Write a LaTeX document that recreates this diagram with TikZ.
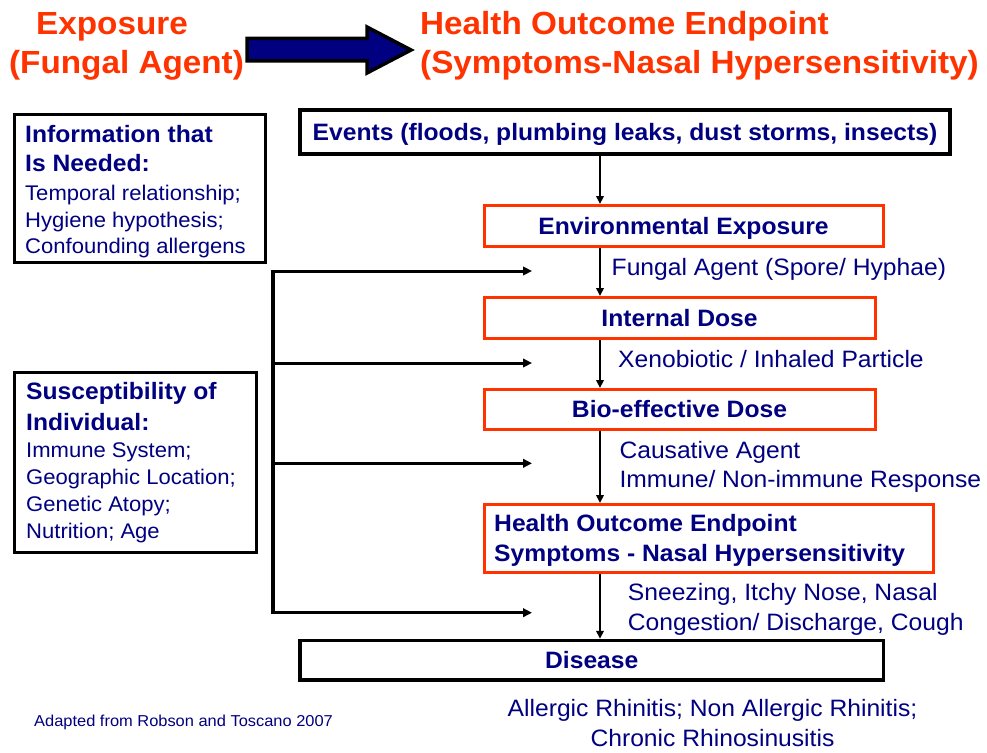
\documentclass[tikz,border=0pt]{standalone}
\usepackage{fontspec}
\setmainfont{Liberation Sans}[FakeStretch=1.04]
\usetikzlibrary{arrows.meta}

\definecolor{navy}{HTML}{000080}
\definecolor{flame}{HTML}{FF3300}

\newcommand\dgTitle{\fontsize{32}{39}\selectfont\bfseries}
\newcommand\dgStage{\fontsize{23.7}{30}\selectfont\bfseries}
\newcommand\dgNote{\fontsize{23.7}{29.5}\selectfont}
\newcommand\dgSide{\fontsize{21.2}{27}\selectfont}
\newcommand\dgSideHead{\fontsize{23.7}{27}\selectfont\bfseries}
\newcommand\dgCredit{\fontsize{15.8}{19}\selectfont}

\tikzset{
  heading/.style={text=flame, font=\dgTitle, inner sep=0pt},
  stagebox/.style={draw=flame, line width=3pt, rectangle, inner sep=0pt,
    text=navy, font=\dgStage, text height=17pt, text depth=0pt},
  eventbox/.style={draw=black, line width=4pt, rectangle, inner sep=0pt,
    text=navy, font=\dgStage, text height=17pt, text depth=0pt},
  framebox/.style={draw=black, line width=3pt, rectangle, inner sep=0pt},
  note/.style={text=navy, font=\dgNote, inner sep=0pt, align=left},
  sidetext/.style={text=navy, font=\dgSide, inner sep=0pt, align=left},
  flow/.style={-{Triangle[length=8pt,width=7.5pt]}, line width=2pt},
  feed/.style={-{Triangle[length=9pt,width=8.5pt]}, line width=3pt},
}

\begin{document}
\begin{tikzpicture}[x=1pt,y=-1pt]
\useasboundingbox (0,0) rectangle (987,752);

% headings
\node[heading, anchor=base] (expo) at (112,35) {Exposure};
\node[heading, anchor=base] (agent) at (126.5,74) {(Fungal Agent)};
\node[heading, anchor=base west] (outc) at (420,35) {Health Outcome Endpoint};
\node[heading, anchor=base west] (outcsub) at (420,74) {(Symptoms-Nasal Hypersensitivity)};

% block arrow between the headings
\draw[fill=navy, draw=black, line width=3.5pt, line join=miter]
  (247,38.5) -- (367,38.5) -- (367,27) -- (411,50) -- (367,73) -- (367,61)
  -- (247,61) -- cycle;

% side panels
\node[framebox, minimum width=251pt, minimum height=148pt] (info) at (140,188.5) {};
\node[sidetext, anchor=north west] (infotext) at (25,124.7)
  {{\dgSideHead Information that}\\[2.5pt]{\dgSideHead Is Needed:}\\[1.5pt]
   Temporal relationship;\\Hygiene hypothesis;\\[-0.5pt]Confounding allergens};

\node[framebox, minimum width=242pt, minimum height=180.5pt] (susc) at (135.5,462.25) {};
\node[sidetext, anchor=north west] (susctext) at (26,382)
  {{\dgSideHead Susceptibility of}\\[3.7pt]{\dgSideHead Individual:}\\[0.7pt]
   Immune System;\\Geographic Location;\\Genetic Atopy;\\Nutrition; Age};

% main chain
\node[eventbox, minimum width=650pt, minimum height=43.5pt] (events) at (625,131.75)
  {Events (floods, plumbing leaks, dust storms, insects)};
\node[stagebox, minimum width=399pt, minimum height=40.5pt] (env) at (683.5,225.75)
  {Environmental Exposure};
\node[stagebox, minimum width=391pt, minimum height=41pt] (internal) at (679.5,318)
  {Internal Dose};
\node[stagebox, minimum width=391pt, minimum height=39.5pt] (bio) at (679.5,409.25)
  {Bio-effective Dose};
\node[framebox, draw=flame, minimum width=449.5pt, minimum height=68pt] (health) at (708.75,538.5) {};
\node[note, font=\dgStage, anchor=north west] (healthtext) at (494,514.5)
  {Health Outcome Endpoint\\Symptoms - Nasal Hypersensitivity};
\node[eventbox, line width=3.5pt, minimum width=583.5pt, minimum height=39.5pt] (disease) at (591.75,660.25)
  {Disease};

% labels along the chain
\node[note, anchor=base west] (fungal) at (611.5,275) {Fungal Agent (Spore/ Hyphae)};
\node[note, anchor=base west] (xeno) at (618,367.3) {Xenobiotic / Inhaled Particle};
\node[note, anchor=north west] (cause) at (619.3,441)
  {Causative Agent\\Immune/ Non-immune Response};
\node[note, anchor=north west] (symp) at (627.7,583.4)
  {Sneezing, Itchy Nose, Nasal\\Congestion/ Discharge, Cough};
\node[note, align=center, anchor=north] (dx) at (712.5,699.4)
  {Allergic Rhinitis; Non Allergic Rhinitis;\\Chronic Rhinosinusitis};

\node[text=navy, font=\dgCredit, inner sep=0pt, anchor=base west] (credit) at (34,726.7)
  {Adapted from Robson and Toscano 2007};

% downward flow
\coordinate (axis) at (600,0);
\draw[flow] (axis |- events.south) -- (axis |- env.north);
\draw[flow] (axis |- env.south) -- (axis |- internal.north);
\draw[flow] (axis |- internal.south) -- (axis |- bio.north);
\draw[flow] (axis |- bio.south) -- (axis |- health.north);
\draw[flow] (axis |- health.south) -- (axis |- disease.north);

% modifiers fed in at every step
\coordinate (b1) at (273,271);
\coordinate (b2) at (273,363);
\coordinate (b3) at (273,463.3);
\coordinate (b4) at (273,612.7);
\coordinate (f1) at (532,271);
\coordinate (f2) at (532,363);
\coordinate (f3) at (532,463.3);
\coordinate (f4) at (532,612.7);
\draw[line width=4pt, shorten <=-1.5pt, shorten >=-1.5pt] (b1) -- (b4);
\draw[feed] (b1) -- (f1);
\draw[feed] (b2) -- (f2);
\draw[feed] (b3) -- (f3);
\draw[feed] (b4) -- (f4);
\end{tikzpicture}
\end{document}
